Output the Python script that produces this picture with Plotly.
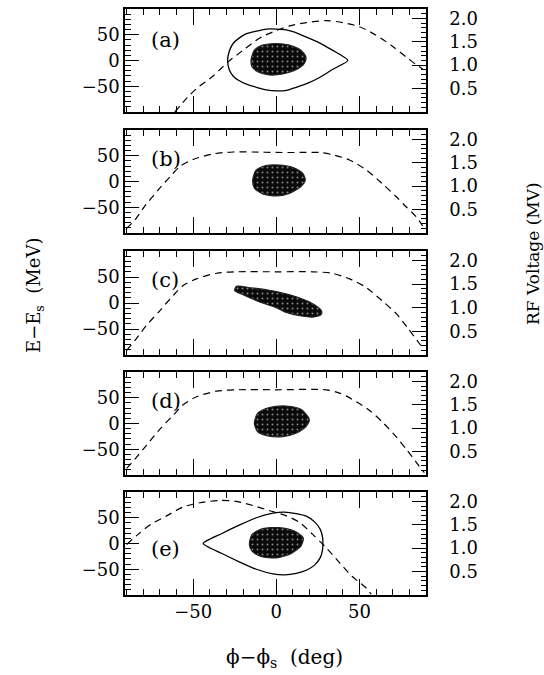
import plotly.graph_objects as go

# ---------------- data ----------------
panel_labels = ["(a)", "(b)", "(c)", "(d)", "(e)"]

# RF voltage (MV) dashed curves, x in deg
rf_a_x = [-61, -54, -48, -38, -29, -20, -10, 0, 8, 18, 30, 40, 50, 60, 70, 79, 84.5, 88]
rf_a_v = [0.0, 0.29, 0.5, 0.77, 1.07, 1.32, 1.58, 1.74, 1.84, 1.91, 1.95, 1.91, 1.82, 1.64, 1.40, 1.15, 1.0, 0.92]

rf_b_x = [-90, -85, -79, -71, -64, -58, -50, -38, -26, -14, 0, 14, 26, 34, 44, 54, 63.5, 72, 78, 84, 88]
rf_b_v = [0.1, 0.28, 0.58, 0.92, 1.20, 1.42, 1.57, 1.69, 1.73, 1.73, 1.72, 1.72, 1.72, 1.67, 1.56, 1.35, 1.06, 0.78, 0.56, 0.35, 0.15]

rf_c_x = [-90, -85, -78, -70, -62, -56, -48, -36, -24, 0, 21.5, 33.5, 44, 54, 63.5, 72, 78.6, 84.6, 88]
rf_c_v = [0.1, 0.31, 0.63, 0.94, 1.26, 1.47, 1.61, 1.73, 1.76, 1.76, 1.76, 1.73, 1.61, 1.43, 1.15, 0.88, 0.59, 0.31, 0.15]

rf_d_x = [-90, -85, -78, -70, -62, -56, -48, -36, -24, 0, 30, 38, 45.5, 55.7, 63.5, 72, 78.6, 84.6, 89]
rf_d_v = [0.14, 0.34, 0.64, 0.98, 1.28, 1.50, 1.67, 1.79, 1.82, 1.82, 1.82, 1.75, 1.62, 1.39, 1.14, 0.82, 0.53, 0.25, 0.05]

rf_e_x = [-90, -83, -75, -66, -56, -46, -34, -24, -14, -4, 6, 14, 21.7, 30, 38, 45.5, 54, 57]
rf_e_v = [1.08, 1.30, 1.52, 1.69, 1.88, 1.97, 2.02, 2.0, 1.91, 1.80, 1.69, 1.55, 1.30, 1.01, 0.69, 0.40, 0.15, 0.02]

# separatrix outlines (deg, MeV)
sep_a_x = [43, 38, 31, 24.5, 17, 10, 6, 0, -6, -12, -18, -23, -26, -28.3, -29.3,
           -28.3, -26, -23, -18, -12, -6, 0, 6, 12, 19, 26, 34, 43]
sep_a_e = [0, 12, 25, 36.5, 47, 56, 59.5, 61, 61, 57, 52, 42, 33, 18, 0,
           -18, -30, -38, -46, -52, -57, -59, -58, -52, -44, -33, -17, 0]

sep_e_x = [-44, -33, -22, -12, -2, 5, 12, 18, 23, 26.5, 27.8, 28, 27.8, 26.5, 23, 18, 12, 5, -2, -12, -22, -33, -44]
sep_e_e = [0, 19, 36, 50, 59, 61, 58, 53, 42, 27, 12, 0, -12, -27, -42, -52, -58, -61, -59, -50, -36, -19, 0]

# particle cloud outlines (deg, MeV)
cloud_a_x = [-15.2, -13.2, -8.2, 0, 7.8, 14.8, 17.8, 16.8, 11.8, 3.8, -4.2, -11.2, -14.6]
cloud_a_e = [1, 20, 30, 33, 30, 20, 7, -5.5, -18, -26, -28, -22, -12]

cloud_b_x = [-14.2, -12.2, -6.2, 1.8, 9.8, 15.8, 17.4, 14.8, 7.8, 0, -8.2, -13.2]
cloud_b_e = [3, 22, 31, 32, 27.5, 16, 3, -10, -23, -28, -24, -13]

cloud_c_x = [-24, -15, -5, 0, 10, 20, 27, 27, 22, 15, 5, 0, -10, -20, -25]
cloud_c_e = [32, 29, 25, 22, 14, 2, -14, -22, -27, -25, -17, -9, 2, 16, 24]

cloud_d_x = [-13.2, -11.2, -4.2, 5.8, 14.8, 19.8, 17.8, 11.8, 3.8, -5.2, -11.2]
cloud_d_e = [0, 20, 31, 34, 27.6, 8, -6, -19, -25.6, -24, -16]

cloud_e_x = [-16.2, -14.6, -8.2, 1.8, 10.8, 16.2, 14.8, 8.8, 0, -9.2, -14.6]
cloud_e_e = [-2, 17.6, 28.8, 30.7, 24, 11, -5, -19.6, -28, -25, -15]

x_ticks = [-50, 0, 50]
e_ticks = [-50, 0, 50]
v_ticks = [0.5, 1.0, 1.5, 2.0]
v_tick_text = ["0.5", "1.0", "1.5", "2.0"]

rf_x = [rf_a_x, rf_b_x, rf_c_x, rf_d_x, rf_e_x]
rf_v = [rf_a_v, rf_b_v, rf_c_v, rf_d_v, rf_e_v]
cloud_x = [cloud_a_x, cloud_b_x, cloud_c_x, cloud_d_x, cloud_e_x]
cloud_e = [cloud_a_e, cloud_b_e, cloud_c_e, cloud_d_e, cloud_e_e]
sep = {0: (sep_a_x, sep_a_e), 4: (sep_e_x, sep_e_e)}
label_pos_y = [0.70, 0.72, 0.72, 0.72, 0.45]

# ---------------- layout geometry ----------------
W, H = 544, 675
panel_px = [(9, 112), (130, 233), (251, 355), (372, 475), (492, 595)]
x_dom = [125 / W, 426 / W]

FONT = "DejaVu Serif"
TICK_SIZE = 18
fig = go.Figure()
layout = dict(
    width=W, height=H, margin=dict(l=0, r=0, t=0, b=0),
    paper_bgcolor="white", plot_bgcolor="white", showlegend=False,
    font=dict(family=FONT, size=16, color="black"),
)
annotations = []

for i in range(5):
    n = i + 1
    xa = "x" if n == 1 else f"x{n}"
    ya = "y" if n == 1 else f"y{n}"
    yr_n = n + 5
    yr = f"y{yr_n}"
    top, bot = panel_px[i]
    y_dom = [1 - bot / H, 1 - top / H]

    # particle cloud
    fig.add_trace(go.Scatter(
        x=cloud_x[i] + [cloud_x[i][0]], y=cloud_e[i] + [cloud_e[i][0]],
        xaxis=xa, yaxis=ya, mode="lines", fill="toself",
        fillcolor="black", line=dict(color="#222", width=1.2, shape="spline", smoothing=0.7),
        fillpattern=dict(shape=".", bgcolor="#0a0a0a", fgcolor="#ffffff",
                         size=5, solidity=0.12),
        hoverinfo="skip"))
    # separatrix
    if i in sep:
        sx, se = sep[i]
        fig.add_trace(go.Scatter(x=sx, y=se, xaxis=xa, yaxis=ya, mode="lines",
                                 line=dict(color="black", width=1.3, shape="spline", smoothing=0.6),
                                 hoverinfo="skip"))
    # RF voltage
    fig.add_trace(go.Scatter(x=rf_x[i], y=rf_v[i], xaxis=xa, yaxis=yr, mode="lines",
                             line=dict(color="black", width=1.2, dash="7px,5px", shape="spline", smoothing=0.8),
                             hoverinfo="skip"))

    axis_x = dict(
        domain=x_dom, range=[-91, 90], anchor=ya,
        tickvals=x_ticks, ticks="inside", ticklen=16, tickwidth=1.2, tickcolor="black",
        minor=dict(dtick=10, tick0=0, ticks="inside", ticklen=6, tickwidth=1, tickcolor="black"),
        showline=True, linecolor="black", linewidth=1.5, mirror="ticks",
        showgrid=False, zeroline=False, showticklabels=(i == 4),
        tickfont=dict(family=FONT, size=TICK_SIZE),
    )
    if i != 0:
        axis_x["matches"] = "x"
    layout["xaxis" if n == 1 else f"xaxis{n}"] = axis_x

    layout["yaxis" if n == 1 else f"yaxis{n}"] = dict(
        domain=y_dom, range=[-100, 100], anchor=xa,
        tickvals=e_ticks, ticks="inside", ticklen=14, tickwidth=1.2, tickcolor="black",
        minor=dict(dtick=10, tick0=0, ticks="inside", ticklen=6, tickwidth=1, tickcolor="black"),
        showline=True, linecolor="black", linewidth=1.5,
        showgrid=False, zeroline=False, tickfont=dict(family=FONT, size=TICK_SIZE),
        ticklabelstandoff=0,
    )
    layout[f"yaxis{yr_n}"] = dict(
        domain=y_dom, range=[0, 2.2], anchor=xa, overlaying=ya, side="right",
        tickvals=v_ticks, ticktext=v_tick_text, ticks="inside", ticklen=14, tickwidth=1.2,
        tickcolor="black",
        minor=dict(dtick=0.1, tick0=0, ticks="inside", ticklen=5, tickwidth=1, tickcolor="black"),
        showline=True, linecolor="black", linewidth=1.5,
        showgrid=False, zeroline=False, tickfont=dict(family=FONT, size=TICK_SIZE),
        ticklabelstandoff=18,
    )
    annotations.append(dict(
        text=panel_labels[i], xref=f"{xa} domain", yref=f"{ya} domain",
        x=0.08, y=label_pos_y[i], xanchor="left", yanchor="middle",
        showarrow=False, font=dict(family=FONT, size=21, color="black")))

# axis titles
annotations.append(dict(text="E\u2212E<sub>s</sub>\u00a0\u00a0(MeV)", xref="paper", yref="paper",
                        x=35 / W, y=1 - 296 / H, textangle=-90, showarrow=False,
                        xanchor="center", yanchor="middle",
                        font=dict(family=FONT, size=18, color="black")))
annotations.append(dict(text="RF Voltage (MV)", xref="paper", yref="paper",
                        x=533 / W, y=1 - 254 / H, textangle=-90, showarrow=False,
                        xanchor="center", yanchor="middle",
                        font=dict(family=FONT, size=17, color="black")))
annotations.append(dict(text="\u03d5\u2212\u03d5<sub>s</sub>\u00a0\u00a0(deg)", xref="paper", yref="paper",
                        x=284 / W, y=1 - 658 / H, showarrow=False,
                        xanchor="center", yanchor="middle",
                        font=dict(family=FONT, size=20, color="black")))
layout["annotations"] = annotations
fig.update_layout(**layout)
fig.write_html("out.html", config={"displayModeBar": False},
               post_script="document.body.style.margin='0px';")
